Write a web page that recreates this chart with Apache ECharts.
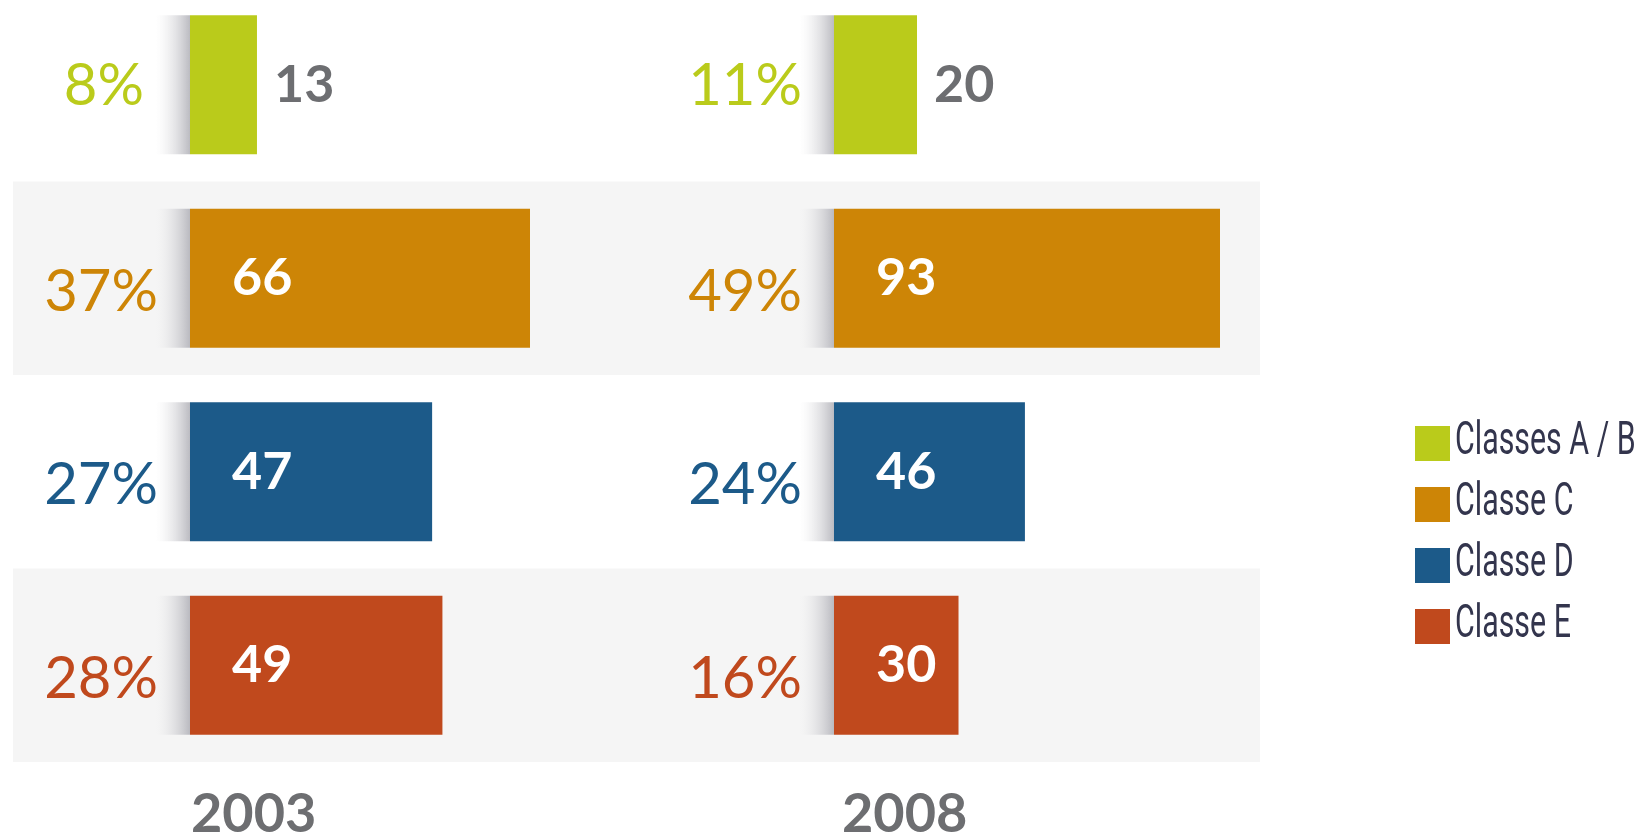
<!DOCTYPE html>
<html>
<head>
<meta charset="utf-8">
<title>Classes 2003 / 2008</title>
<script src="https://cdn.jsdelivr.net/npm/echarts@6/dist/echarts.min.js"></script>
<style>
html, body { margin: 0; padding: 0; background: #fff; }
#main { width: 1640px; height: 834px; }
</style>
</head>
<body>
<div id="main"></div>
<script type="text/javascript">
// rows, top to bottom
var classes = ['Classes A / B', 'Classe C', 'Classe D', 'Classe E'];
var colors = ['#bacb1b', '#cd8506', '#1c5a89', '#c0491d'];
var years = ['2003', '2008'];
// number per class
var values2003 = [13, 66, 47, 49];
var values2008 = [20, 93, 46, 30];
// share of total, %
var pct2003 = [8, 37, 27, 28];
var pct2008 = [11, 49, 24, 16];

var panels = [
	{ values: values2003, pct: pct2003 },
	{ values: values2008, pct: pct2008 }
];

var BAR_H = 139;
var LEG_TOP = 421, LEG_STEP = 61;
var chart = echarts.init(document.getElementById('main'));

// grey shade left of each bar + the % label
function shadowItem(params, api) {
	var idx = api.value(1);
	var pt = api.coord([0, idx]);
	return {
		type: 'group',
		children: [{
			type: 'rect',
			shape: { x: pt[0] - 34, y: pt[1] - BAR_H / 2, width: 34, height: BAR_H },
			style: {
				fill: new echarts.graphic.LinearGradient(0, 0, 1, 0, [
					{ offset: 0, color: 'rgba(230,230,232,0)' },
					{ offset: 1, color: 'rgba(175,175,182,0.85)' }
				])
			}
		}, {
			type: 'text',
			x: pt[0] - (idx === 0 && params.seriesIndex < 5 ? 46 : 32),
			y: pt[1] + (idx === 0 ? 2 : 14),
			style: {
				text: api.value(2) + '%',
				fill: colors[idx],
				align: 'right',
				verticalAlign: 'middle',
				fontSize: 58,
				fontFamily: 'Lato'
			}
		}]
	};
}

var series = [];
panels.forEach(function (p, g) {
	classes.forEach(function (name, i) {
		var data = p.values.map(function (v, j) { return j === i ? v : '-'; });
		var green = i === 0;
		series.push({
			name: name,
			type: 'bar',
			xAxisIndex: g + 1,
			yAxisIndex: g + 1,
			stack: 'p' + g,
			barWidth: BAR_H,
			data: data,
			itemStyle: { color: colors[i] },
			label: {
				show: true,
				position: green ? 'right' : 'insideLeft',
				distance: green ? 17 : 42,
				color: green ? '#6d6e71' : '#fff',
				fontSize: 52,
				fontWeight: 'bold',
				fontFamily: 'Lato'
			}
		});
	});
	series.push({
		type: 'custom',
		xAxisIndex: g + 1,
		yAxisIndex: g + 1,
		renderItem: shadowItem,
		encode: { x: 0, y: 1 },
		silent: true,
		data: p.pct.map(function (v, j) { return [0, j, v]; })
	});
});

// legend names drawn condensed (no narrow font installed)
var legendText = classes.map(function (name, i) {
	return {
		type: 'text',
		x: 1455,
		y: LEG_TOP + 21 + i * LEG_STEP,
		scaleX: 0.66,
		style: {
			text: name,
			fill: '#33354d',
			fontSize: 46,
			fontFamily: 'Roboto',
			verticalAlign: 'middle'
		}
	};
});

var option = {
	animation: false,
	title: years.map(function (y, i) {
		return {
			text: y,
			left: [191, 842][i],
			top: 788,
			padding: 0,
			textStyle: { fontSize: 54, fontWeight: 'bold', color: '#6d6e71', fontFamily: 'Lato' }
		};
	}),
	legend: {
		orient: 'vertical',
		left: 1410,
		top: LEG_TOP,
		itemWidth: 35,
		itemHeight: 35,
		itemGap: LEG_STEP - 35,
		icon: 'rect',
		data: classes,
		formatter: function () { return ' '; },
		textStyle: { fontSize: 12 }
	},
	graphic: legendText,
	grid: [
		{ left: 13, top: -12, width: 1247, height: 774, outerBoundsMode: 'none' },
		{ left: 190, top: -12, width: 340, height: 774, outerBoundsMode: 'none' },
		{ left: 834, top: -12, width: 386, height: 774, outerBoundsMode: 'none' }
	],
	xAxis: [0, 1, 2].map(function (g) {
		return { gridIndex: g, type: 'value', min: 0, max: 'dataMax', show: false };
	}),
	yAxis: [0, 1, 2].map(function (g) {
		return {
			gridIndex: g,
			type: 'category',
			inverse: true,
			data: classes,
			show: g === 0,
			axisLine: { show: false },
			axisTick: { show: false },
			axisLabel: { show: false },
			splitLine: { show: false },
			splitArea: { show: g === 0, areaStyle: { color: ['rgba(255,255,255,0)', '#f5f5f5'] } }
		};
	}),
	series: series
};
chart.setOption(option);
</script>
</body>
</html>
